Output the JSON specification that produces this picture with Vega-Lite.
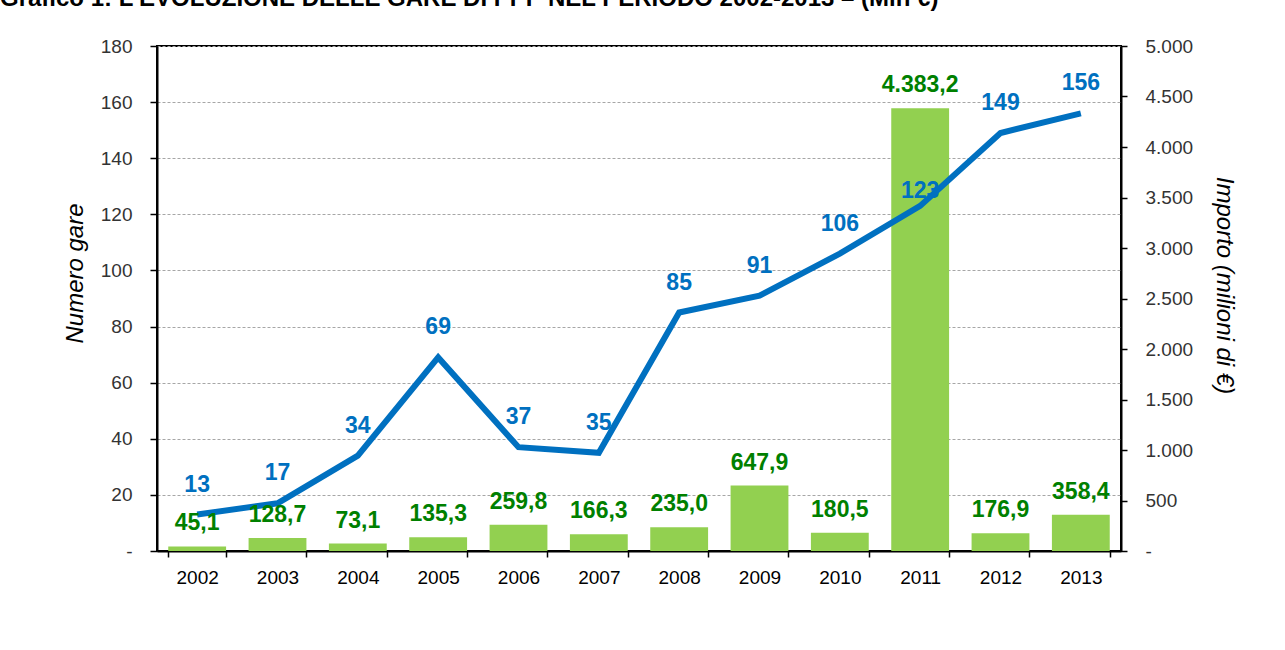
{
  "$schema": "https://vega.github.io/schema/vega-lite/v6.json",
  "width": 964,
  "height": 505,
  "autosize": {"type": "none"},
  "padding": {"left": 157, "top": 46, "right": 164, "bottom": 99},
  "background": "white",
  "title": {
    "text": "Grafico 1: L'EVOLUZIONE DELLE GARE DI PPP NEL PERIODO 2002-2013 – (Mln €)",
    "anchor": "start",
    "frame": "group",
    "dx": -157,
    "dy": 18,
    "offset": 25,
    "baseline": "alphabetic",
    "font": "Liberation Sans",
    "fontSize": 24,
    "fontWeight": "bold",
    "color": "black"
  },
  "data": {
    "values": [
      {"anno": "2002", "gare": 13, "importo": 45.1},
      {"anno": "2003", "gare": 17, "importo": 128.7},
      {"anno": "2004", "gare": 34, "importo": 73.1},
      {"anno": "2005", "gare": 69, "importo": 135.3},
      {"anno": "2006", "gare": 37, "importo": 259.8},
      {"anno": "2007", "gare": 35, "importo": 166.3},
      {"anno": "2008", "gare": 85, "importo": 235.0},
      {"anno": "2009", "gare": 91, "importo": 647.9},
      {"anno": "2010", "gare": 106, "importo": 180.5},
      {"anno": "2011", "gare": 123, "importo": 4383.2},
      {"anno": "2012", "gare": 149, "importo": 176.9},
      {"anno": "2013", "gare": 156, "importo": 358.4}
    ]
  },
  "config": {
    "locale": {"number": {"decimal": ",", "thousands": ".", "grouping": [3], "currency": ["", " €"]}},
    "view": {"stroke": "black", "strokeWidth": 2},
    "axis": {
      "labelFont": "Liberation Sans",
      "titleFont": "Liberation Sans",
      "labelFontSize": 19,
      "labelColor": "#333333",
      "titleColor": "black",
      "domainColor": "black",
      "domainWidth": 2,
      "tickColor": "black",
      "tickWidth": 1.5
    },
    "text": {"font": "Liberation Sans"}
  },
  "encoding": {
    "x": {
      "field": "anno",
      "type": "ordinal",
      "scale": {"paddingInner": 0.28, "paddingOuter": 0.14},
      "axis": {
        "title": null,
        "labelAngle": 0,
        "tickBand": "extent",
        "tickSize": 6,
        "labelPadding": 11,
        "labelColor": "black",
        "grid": false
      }
    }
  },
  "layer": [
    {
      "mark": {"type": "bar", "color": "#92D050"},
      "encoding": {
        "y": {
          "field": "importo",
          "type": "quantitative",
          "scale": {"domain": [0, 5000], "nice": false},
          "axis": {
            "orient": "right",
            "values": [0, 500, 1000, 1500, 2000, 2500, 3000, 3500, 4000, 4500, 5000],
            "format": ",d",
            "labelExpr": "datum.value == 0 ? '-' : datum.label",
            "grid": false,
            "tickSize": 6,
            "labelPadding": 18,
            "title": "Importo (milioni di €)",
            "titleFontSize": 24,
            "titleFontStyle": "italic",
            "titleFontWeight": "normal",
            "titleAngle": 90,
            "titleBaseline": "alphabetic",
            "titleX": 95,
            "titleY": 239
          }
        }
      }
    },
    {
      "mark": {"type": "line", "color": "#0070C0", "strokeWidth": 6, "strokeJoin": "miter", "strokeCap": "butt"},
      "encoding": {
        "y": {
          "field": "gare",
          "type": "quantitative",
          "scale": {"domain": [0, 180], "nice": false},
          "axis": {
            "orient": "left",
            "values": [0, 20, 40, 60, 80, 100, 120, 140, 160, 180],
            "format": "d",
            "labelExpr": "datum.value == 0 ? '-' : datum.label",
            "grid": true,
            "gridDash": [3, 2],
            "gridColor": "#a6a6a6",
            "gridWidth": 1,
            "tickSize": 7,
            "labelPadding": 18,
            "title": "Numero gare",
            "titleFontSize": 24,
            "titleFontStyle": "italic",
            "titleFontWeight": "normal",
            "titleAngle": 270,
            "titleBaseline": "alphabetic",
            "titleX": -75,
            "titleY": 227
          }
        }
      }
    },
    {
      "mark": {"type": "text", "color": "#008000", "fontSize": 23, "fontWeight": "bold", "baseline": "alphabetic", "dy": -16},
      "encoding": {
        "y": {"field": "importo", "type": "quantitative", "scale": {"domain": [0, 5000], "nice": false}, "axis": null},
        "text": {"field": "importo", "type": "quantitative", "format": ",.1f"}
      }
    },
    {
      "transform": [{"filter": "datum.anno != '2011'"}],
      "mark": {"type": "text", "color": "#0070C0", "fontSize": 23, "fontWeight": "bold", "baseline": "alphabetic", "dy": -23},
      "encoding": {
        "y": {"field": "gare", "type": "quantitative", "scale": {"domain": [0, 180], "nice": false}, "axis": null},
        "text": {"field": "gare", "type": "quantitative", "format": "d"}
      }
    },
    {
      "transform": [{"filter": "datum.anno == '2011'"}],
      "mark": {"type": "text", "color": "#0070C0", "fontSize": 23, "fontWeight": "bold", "baseline": "alphabetic", "dy": -8},
      "encoding": {
        "y": {"field": "gare", "type": "quantitative", "scale": {"domain": [0, 180], "nice": false}, "axis": null},
        "text": {"field": "gare", "type": "quantitative", "format": "d"}
      }
    }
  ],
  "resolve": {"scale": {"y": "independent"}}
}
